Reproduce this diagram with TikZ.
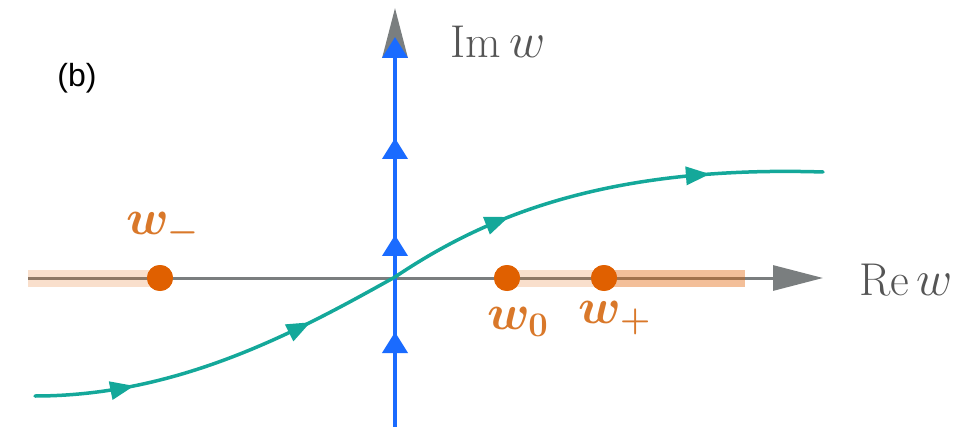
\documentclass[tikz,border=0pt]{standalone}
\usepackage{amsmath}
\usepackage{fontspec}
\usetikzlibrary{arrows.meta,decorations.markings}
\newfontfamily\panelfont{Liberation Sans}
\definecolor{axisgray}{RGB}{122,126,127}
\definecolor{pathblue}{RGB}{26,107,255}
\definecolor{pathteal}{RGB}{20,168,154}
\definecolor{cutorange}{RGB}{224,96,0}
\definecolor{labelorange}{RGB}{217,120,42}
\definecolor{textgray}{RGB}{85,85,85}

\begin{document}
\begin{tikzpicture}[x=0.5pt, y=-0.5pt,
    axis/.style={draw=axisgray, line width=1.5pt, -{Triangle[length=25pt,width=12.5pt]}},
    cut/.style={draw=cutorange, line width=8.5pt, draw opacity=0.2},
    cutdark/.style={draw=cutorange, line width=8.5pt, draw opacity=0.4},
    branch/.style={circle, fill=cutorange, inner sep=0pt, minimum size=13pt},
    ptlabel/.style={text=labelorange, font=\boldmath\fontsize{27}{30}\selectfont},
    axlabel/.style={text=textgray, font=\fontsize{23}{27}\selectfont},
    imline/.style={draw=pathblue, line width=2pt, -{Triangle[length=10.5pt,width=12.5pt]},
        postaction={decorate, decoration={markings,
            mark=at position 47.5pt with {\arrow{Triangle[length=10.5pt,width=12.5pt]}},
            mark=at position 96pt with {\arrow{Triangle[length=10.5pt,width=12.5pt]}},
            mark=at position 144.5pt with {\arrow{Triangle[length=10.5pt,width=12.5pt]}}}}},
    contour/.style={draw=pathteal, line width=1.75pt, line cap=round,
        postaction={decorate, decoration={markings,
            mark=at position 0.12 with {\arrow{Triangle[length=12pt,width=9pt]}},
            mark=at position 0.346 with {\arrow{Triangle[length=12pt,width=9pt]}},
            mark=at position 0.616 with {\arrow{Triangle[length=12pt,width=9pt]}},
            mark=at position 0.864 with {\arrow{Triangle[length=12pt,width=9pt]}}}}}
]
    \useasboundingbox (0,0) rectangle (979,427);

    \coordinate (releft) at (28,278);
    \coordinate (retip) at (823,278);
    \coordinate (cutend) at (745,278);
    \coordinate (imbot) at (395,427);
    \coordinate (imtip) at (395,8);
    \coordinate (imblue) at (395,37);
    \coordinate (cstart) at (35,396);
    \coordinate (corigin) at (395,277);
    \coordinate (cend) at (823,172);

    % branch points
    \node[branch] (wm) at (160,278) {};
    \node[branch] (wz) at (507,278) {};
    \node[branch] (wp) at (604,278) {};

    % axes and cuts
    \draw[axis] (releft) -- (retip);
    \draw[cut] (releft) -- (wm.center);
    \draw[cut] (wz.center) -- (wp.center);
    \draw[cutdark] (wp.center) -- (cutend);
    \draw[axis] (imbot) -- (imtip);
    \draw[imline] (imbot) -- (imblue);

    \draw[contour] (cstart) .. controls (180,396) and (300,330) .. (corigin)
        .. controls (480,220) and (600,165) .. (cend);

    \node[branch] at (wm) {};
    \node[branch] at (wz) {};
    \node[branch] at (wp) {};

    \node[ptlabel] (lwm) at (163,229) {$w_{-}$};
    \node[ptlabel] (lwz) at (518,322) {$w_{0}$};
    \node[ptlabel] (lwp) at (615,318) {$w_{+}$};

    \node[axlabel] (imlbl) at (498,42) {Im\,$w$};
    \node[axlabel] (relbl) at (906,280) {Re\,$w$};
    \node[font=\panelfont\fontsize{16}{19}\selectfont] (panel) at (77,78) {(b)};
\end{tikzpicture}
\end{document}
